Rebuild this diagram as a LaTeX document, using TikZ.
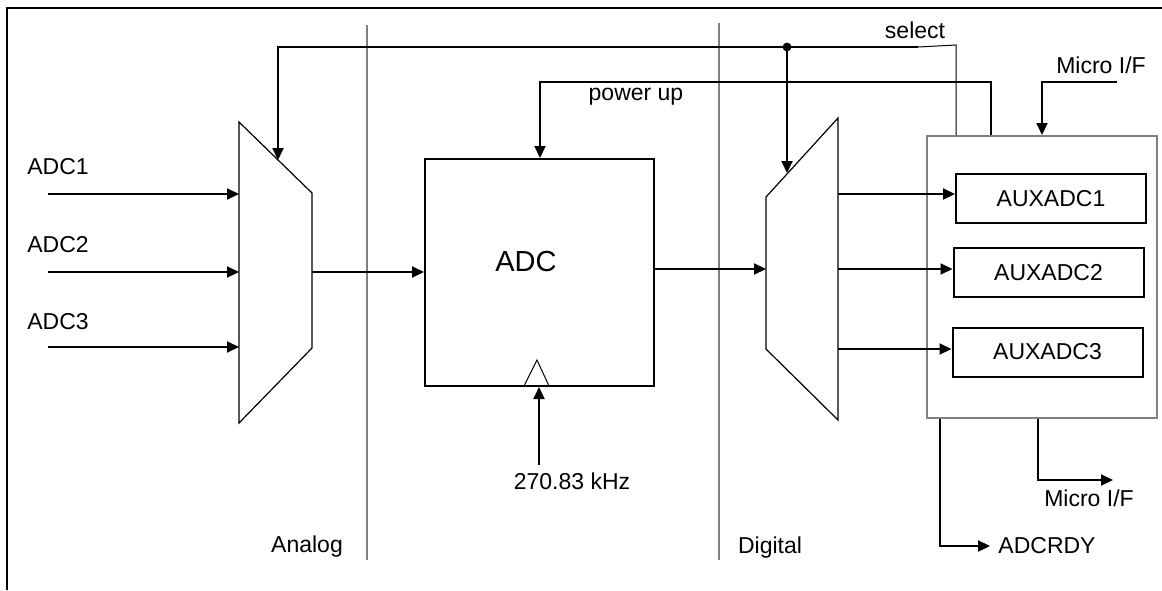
\documentclass[tikz,border=0pt]{standalone}
\usepackage{fontspec}
\setmainfont{Liberation Sans}
\usetikzlibrary{arrows.meta,positioning,calc}
\definecolor{divgrey}{RGB}{128,128,128}
\tikzset{
  blk/.style={draw=black,line width=1pt,fill=white,inner sep=0pt,
              minimum width=95pt,minimum height=24.5pt,font=\fontsize{11.5}{13}\selectfont},
  grpbox/.style={draw=divgrey,line width=1pt,inner sep=0pt,
                 minimum width=115pt,minimum height=141pt},
  muxline/.style={draw=black,line width=0.6pt,line join=miter},
  flow/.style={-{Triangle[length=6pt,width=5.5pt]},line width=1pt},
  wire/.style={line width=1pt},
  thinw/.style={line width=0.5pt},
  divider/.style={draw=divgrey,line width=1pt},
  lbl/.style={font=\fontsize{11.5}{13}\selectfont,inner sep=0pt},
}

\begin{document}
\begin{tikzpicture}[x=0.5pt,y=-0.5pt]
  \useasboundingbox (0,0) rectangle (1162,590);
  % frame (top and left only)
  \draw[line width=1.3pt] (7,590) |- (1162,8);

  % analog / digital split
  \draw[divider] (367,25) -- (367,560);
  \draw[divider] (719,23) -- (719,560);
  \node[lbl] (analog)  at (307,547) {Analog};
  \node[lbl] (digital) at (770,548) {Digital};

  % input mux
  \draw[muxline] (239,122) -- (312,193) -- (312,348) -- (239,423) -- cycle;
  \coordinate (in1)  at (239,194);
  \coordinate (in2)  at (239,272);
  \coordinate (in3)  at (239,347);
  \coordinate (mout) at (312,272);
  \coordinate (msel) at (278,160);

  \node[lbl] (adc1) at (58,167) {ADC1};
  \node[lbl] (adc2) at (58,245) {ADC2};
  \node[lbl] (adc3) at (58,322) {ADC3};
  \coordinate (s1) at (48,194);
  \coordinate (s2) at (48,272);
  \coordinate (s3) at (48,347);
  \draw[flow] (s1) -- (in1);
  \draw[flow] (s2) -- (in2);
  \draw[flow] (s3) -- (in3);

  % converter
  \node[draw,line width=1pt,inner sep=0pt,minimum width=114.5pt,
        minimum height=113.5pt] (adc) at (539.5,272.5) {};
  \node[inner sep=0pt,font=\fontsize{14.5}{16}\selectfont] (adcl) at (526,262) {ADC};
  \draw[thinw] (524,386) -- (537,360) -- (549,386);
  \draw[flow] (mout) -- (mout -| adc.west);

  % clock
  \node[lbl] (clk) at (572,481) {270.83 kHz};
  \coordinate (ck) at (539,465);
  \draw[flow] (ck) -- (ck |- adc.south);

  % output demux
  \draw[muxline] (766,197) -- (838,118) -- (838,420) -- (766,349) -- cycle;
  \coordinate (din)  at (766,269);
  \coordinate (dsel) at (787,173);
  \coordinate (o1) at (838,194);
  \coordinate (o2) at (838,269);
  \coordinate (o3) at (838,349);
  \draw[flow] (din -| adc.east) -- (din);

  % register block
  \node[grpbox] (ifbox) at (1042,277) {};
  \node[blk] (aux1) at (1051,198.5) {AUXADC1};
  \node[blk] (aux2) at (1048.5,272.5) {AUXADC2};
  \node[blk] (aux3) at (1047.5,352) {AUXADC3};
  \draw[flow] (o1) -- (o1 -| aux1.west);
  \draw[flow] (o2) -- (o2 -| aux2.west);
  \draw[flow] (o3) -- (o3 -| aux3.west);

  % select
  \node[lbl] (sel) at (915,30) {select};
  \coordinate (seln) at (918,47);
  \coordinate (selk) at (278,47);
  \coordinate (selj) at (787,47);
  \draw[flow] (seln) -- (selk) -- (msel);
  \draw[flow] (selj) -- (dsel);
  \fill (selj) circle (2.2pt);
  \draw[thinw] (seln) -- (956,45) -- (ifbox.north -| 956,0);

  % power up
  \node[lbl] (pwr) at (636,97) {power up};
  \coordinate (pu) at ($(ifbox.north west)+(65,0)$);
  \coordinate (pk) at (540,82);
  \draw[flow] (pu) |- (pk) -- (pk |- adc.north);

  % micro interface in
  \node[lbl] (mifin) at (1101,65) {Micro I/F};
  \coordinate (mk) at (1117,82);
  \draw[flow] (mk) -| (ifbox.north);

  % outputs
  \node[lbl] (adcrdy) at (1047,546) {ADCRDY};
  \coordinate (rdy) at ($(ifbox.south west)+(14,0)$);
  \draw[flow] (rdy) |- ([xshift=-4pt]adcrdy.west);
  \node[lbl] (mifout) at (1089,498) {Micro I/F};
  \coordinate (mo0) at ($(ifbox.south west)+(112,0)$);
  \coordinate (mo) at (1113,480);
  \draw[flow] (mo0) |- (mo);
\end{tikzpicture}
\end{document}
